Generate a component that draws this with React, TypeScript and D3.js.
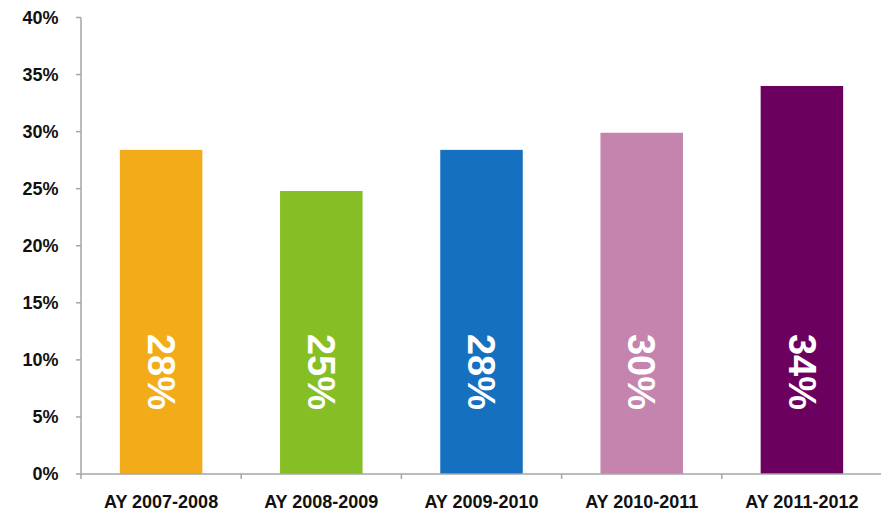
import React, { useEffect, useRef } from 'react';
import * as d3 from 'd3';

const years = ['AY 2007-2008', 'AY 2008-2009', 'AY 2009-2010', 'AY 2010-2011', 'AY 2011-2012'];
const rates = [28.4, 24.8, 28.4, 29.9, 34.0];
const barLabels = ['28%', '25%', '28%', '30%', '34%'];
const barColors = ['#F2AC1A', '#86BE26', '#1570C0', '#C484AE', '#6B005F'];
const yTicks = [0, 5, 10, 15, 20, 25, 30, 35, 40];

const W = 881;
const H = 513;
const FONT = 'Arial, "Liberation Sans", Helvetica, sans-serif';

export default function App() {
  const ref = useRef<SVGSVGElement>(null);

  useEffect(() => {
    const svg = d3.select(ref.current);
    svg.selectAll('*').remove();

    const left = 81;
    const right = 882;
    const top = 17.5;
    const bottom = 474;

    const x = d3.scaleBand().domain(years).range([left, right]).paddingInner(0.485).paddingOuter(0.2425);
    const y = d3.scaleLinear().domain([0, 40]).range([bottom, top]);
    const step = x.step();

    // bars
    svg
      .selectAll('rect.bar')
      .data(years)
      .enter()
      .append('rect')
      .attr('class', 'bar')
      .attr('x', d => x(d)!)
      .attr('y', (d, i) => y(rates[i]))
      .attr('width', x.bandwidth())
      .attr('height', (d, i) => y(0) - y(rates[i]))
      .attr('fill', (d, i) => barColors[i]);

    // rotated value labels
    svg
      .selectAll('text.val')
      .data(years)
      .enter()
      .append('text')
      .attr('class', 'val')
      .attr('transform', d => `translate(${x(d)! + x.bandwidth() / 2},${y(0) - 102}) rotate(90)`)
      .attr('text-anchor', 'middle')
      .attr('dy', '0.35em')
      .attr('fill', '#fff')
      .style('font-family', FONT)
      .style('font-weight', 'bold')
      .style('font-size', '38px')
      .text((d, i) => barLabels[i]);

    const axisColor = '#A6A6A6';

    // y axis
    svg
      .append('line')
      .attr('x1', left)
      .attr('x2', left)
      .attr('y1', y(40))
      .attr('y2', y(0))
      .attr('stroke', axisColor)
      .attr('stroke-width', 1.5);
    yTicks.forEach(t => {
      svg
        .append('line')
        .attr('x1', left - 5)
        .attr('x2', left)
        .attr('y1', y(t))
        .attr('y2', y(t))
        .attr('stroke', axisColor)
        .attr('stroke-width', 1.5);
      svg
        .append('text')
        .attr('x', 58.5)
        .attr('y', y(t))
        .attr('dy', '0.36em')
        .attr('text-anchor', 'end')
        .attr('fill', '#111')
        .style('font-family', FONT)
        .style('font-weight', 'bold')
        .style('font-size', '18px')
        .text(`${t}%`);
    });

    // x axis
    svg
      .append('line')
      .attr('x1', left)
      .attr('x2', right)
      .attr('y1', y(0))
      .attr('y2', y(0))
      .attr('stroke', axisColor)
      .attr('stroke-width', 1.5);
    d3.range(years.length + 1).forEach(i => {
      svg
        .append('line')
        .attr('x1', left + i * step)
        .attr('x2', left + i * step)
        .attr('y1', y(0))
        .attr('y2', y(0) + 5)
        .attr('stroke', axisColor)
        .attr('stroke-width', 1.5);
    });
    svg
      .selectAll('text.cat')
      .data(years)
      .enter()
      .append('text')
      .attr('class', 'cat')
      .attr('x', d => x(d)! + x.bandwidth() / 2)
      .attr('y', 508)
      .attr('text-anchor', 'middle')
      .attr('fill', '#111')
      .style('font-family', FONT)
      .style('font-weight', 'bold')
      .style('font-size', '18px')
      .text(d => d);
  }, []);

  return (
    <svg
      ref={ref}
      width={W}
      height={H}
      style={{ position: 'absolute', left: 0, top: 0, background: '#fff' }}
    />
  );
}
